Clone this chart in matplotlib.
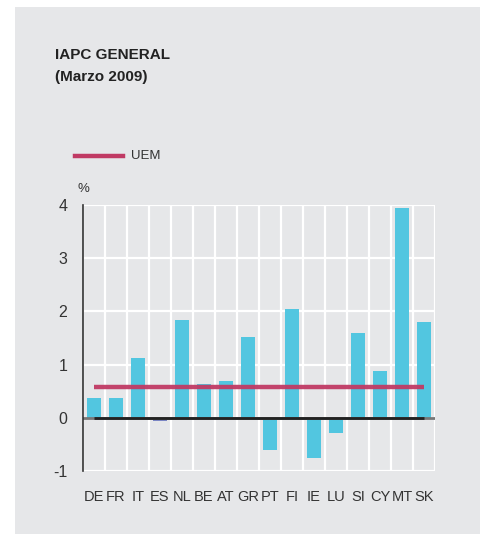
import numpy as np
import matplotlib
matplotlib.use('Agg')
from matplotlib import pyplot as plt
from matplotlib.patches import Rectangle
from matplotlib.lines import Line2D

plt.rcParams['font.family'] = ['Liberation Sans', 'DejaVu Sans']

# Datos (IAPC general, marzo 2009, %)
paises = ['DE', 'FR', 'IT', 'ES', 'NL', 'BE', 'AT', 'GR', 'PT', 'FI', 'IE', 'LU', 'SI', 'CY', 'MT', 'SK']
valores = [0.37, 0.37, 1.12, -0.07, 1.84, 0.63, 0.69, 1.52, -0.61, 2.04, -0.76, -0.28, 1.59, 0.88, 3.94, 1.80]
uem = 0.57
y_ticks = [-1, 0, 1, 2, 3, 4]

fondo = '#E6E7E9'
cian = '#52C6E0'
espana = '#7B86C4'
granate = '#C03A64'
texto = '#333333'

fig = plt.figure(figsize=(4.8, 5.34), dpi=100)
fig.patch.set_facecolor('white')

# Panel gris de fondo
fig.patches.append(Rectangle((15 / 480, 0), 1 - 15 / 480, 527 / 534,
                             transform=fig.transFigure, facecolor=fondo,
                             edgecolor='none', zorder=-10))

ax = fig.add_axes([82.7 / 480, (534 - 470.9) / 534, 352.3 / 480, 265.9 / 534])
ax.set_facecolor(fondo)
ax.set_zorder(1)

x = np.arange(len(paises))
colores = [espana if p == 'ES' else cian for p in paises]

# Rejilla blanca
for b in np.arange(len(paises) + 1) - 0.5:
    ax.axvline(b, color='white', lw=1.6, zorder=1)
for t in y_ticks:
    ax.axhline(t, color='white', lw=1.6, zorder=1)

ax.bar(x, valores, width=0.64, color=colores, zorder=2)

# Línea de cero
ax.axhline(0, color='#777777', lw=2.0, zorder=3)
ax.hlines(0, x[0], x[-1], color='#222222', lw=2.0, zorder=4)

# Media UEM
ax.hlines(uem, x[0], x[-1], color=granate, lw=3.2, alpha=0.95, zorder=5)

ax.set_xlim(-0.5, len(paises) - 0.5)
ax.set_ylim(-1, 4)
ax.set_yticks(y_ticks)
ax.set_yticklabels([str(t) for t in y_ticks])
ax.set_xticks(x)
ax.set_xticklabels(paises)
ax.tick_params(axis='both', length=0, colors=texto)
ax.tick_params(axis='y', pad=11, labelsize=11.5)
ax.tick_params(axis='x', pad=14, labelsize=10.5)

for lado in ['top', 'right', 'bottom']:
    ax.spines[lado].set_visible(False)
ax.spines['left'].set_color('#333333')
ax.spines['left'].set_linewidth(1.2)
ax.spines['left'].set_zorder(6)

# Títulos
fig.text(55 / 480, 1 - 55 / 534, 'IAPC GENERAL', fontsize=11, fontweight='bold',
         color='#222222', va='center', ha='left')
fig.text(55 / 480, 1 - 77 / 534, '(Marzo 2009)', fontsize=11, fontweight='bold',
         color='#222222', va='center', ha='left')

# Leyenda
fig.lines.append(Line2D([75 / 480, 123 / 480], [1 - 155.5 / 534, 1 - 155.5 / 534],
                        transform=fig.transFigure, color=granate, lw=3.2))
fig.text(131 / 480, 1 - 156 / 534, 'UEM', fontsize=9.5, color=texto, va='center', ha='left')
fig.text(78 / 480, 1 - 189 / 534, '%', fontsize=9.5, color=texto, va='center', ha='left')

fig.savefig('out.png', dpi=100)
